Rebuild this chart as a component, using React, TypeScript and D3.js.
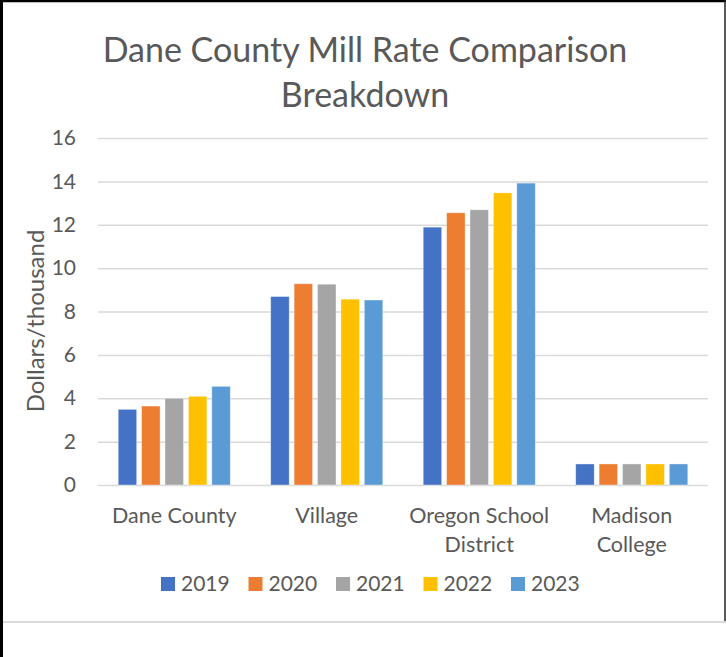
import React, { useEffect, useRef } from "react";
import * as d3 from "d3";

const categories = [
  ["Dane County"],
  ["Village"],
  ["Oregon School", "District"],
  ["Madison", "College"],
];
const years = ["2019", "2020", "2021", "2022", "2023"];
const colors = ["#4472C4", "#ED7D31", "#A5A5A5", "#FFC000", "#5B9BD5"];

// mill rate per category, one array per year
const values2019 = [3.49, 8.69, 11.89, 0.97];
const values2020 = [3.64, 9.28, 12.55, 0.97];
const values2021 = [4.0, 9.26, 12.69, 0.97];
const values2022 = [4.09, 8.57, 13.47, 0.97];
const values2023 = [4.55, 8.53, 13.92, 0.97];
const yTicks = [0, 2, 4, 6, 8, 10, 12, 14, 16];

const series = [values2019, values2020, values2021, values2022, values2023];

function App() {
  const svgRef = useRef(null);

  const width = 726;
  const height = 657;
  const font = "Lato, 'Open Sans', sans-serif";
  const textColor = "#595959";

  useEffect(() => {
    const svg = d3.select(svgRef.current);
    svg.selectAll("*").remove();

    const left = 98;
    const right = 708;
    const top = 138;
    const bottom = 485;

    const catNames = categories.map((c) => c.join(" "));
    const x0 = d3
      .scaleBand()
      .domain(catNames)
      .range([left, right])
      .paddingInner(0.265)
      .paddingOuter(0.1325);
    const x1 = d3
      .scaleBand()
      .domain(years)
      .range([0, x0.bandwidth()])
      .paddingInner(0.21);
    const y = d3.scaleLinear().domain([0, 16]).range([bottom, top]);

    // outer frame
    svg.append("rect").attr("x", 0).attr("y", 0).attr("width", width).attr("height", height).attr("fill", "#fff");
    svg
      .append("line")
      .attr("x1", 3).attr("x2", width)
      .attr("y1", 622).attr("y2", 622)
      .attr("stroke", "#d9d9d9").attr("stroke-width", 2);
    svg
      .append("line")
      .attr("x1", 0).attr("x2", width)
      .attr("y1", 1).attr("y2", 1)
      .attr("stroke", "#000").attr("stroke-width", 2.5);
    svg
      .append("line")
      .attr("x1", 1.5).attr("x2", 1.5)
      .attr("y1", 0).attr("y2", height)
      .attr("stroke", "#000").attr("stroke-width", 3);
    svg
      .append("line")
      .attr("x1", 725).attr("x2", 725)
      .attr("y1", 0).attr("y2", 621)
      .attr("stroke", "#222").attr("stroke-width", 1.5);

    // title
    const title = svg
      .append("text")
      .attr("text-anchor", "middle")
      .attr("font-family", font)
      .attr("font-size", 34)
      .attr("fill", textColor);
    title.append("tspan").attr("x", 365).attr("y", 62).text("Dane County Mill Rate Comparison");
    title.append("tspan").attr("x", 365).attr("y", 107).text("Breakdown");

    // gridlines + y ticks
    const yAxis = d3.axisLeft(y).tickValues(yTicks).tickSize(-(right - left)).tickPadding(22);
    const yg = svg.append("g").attr("transform", `translate(${left},0)`).call(yAxis);
    yg.select(".domain").remove();
    yg.selectAll("line").attr("stroke", "#d9d9d9").attr("stroke-width", 1.5);
    yg.selectAll("text")
      .attr("font-family", font)
      .attr("font-size", 21)
      .attr("fill", textColor);

    svg
      .append("text")
      .attr("transform", `translate(44,321) rotate(-90)`)
      .attr("text-anchor", "middle")
      .attr("font-family", font)
      .attr("font-size", 24)
      .attr("fill", textColor)
      .text("Dollars/thousand");

    // bars
    const groups = svg
      .selectAll(".cat")
      .data(catNames)
      .join("g")
      .attr("transform", (d) => `translate(${x0(d)},0)`);
    groups
      .selectAll("rect")
      .data((d, i) => years.map((yr, k) => ({ yr, k, v: series[k][i] })))
      .join("rect")
      .attr("x", (d) => x1(d.yr))
      .attr("width", x1.bandwidth())
      .attr("y", (d) => y(d.v))
      .attr("height", (d) => y(0) - y(d.v))
      .attr("fill", (d) => colors[d.k])
      .attr("stroke", "#fff")
      .attr("stroke-opacity", 0.5)
      .attr("stroke-width", 0.75);

    // category labels
    const catLabels = svg
      .selectAll(".catlabel")
      .data(categories)
      .join("text")
      .attr("text-anchor", "middle")
      .attr("font-family", font)
      .attr("font-size", 21.5)
      .attr("fill", textColor);
    catLabels
      .selectAll("tspan")
      .data((d) => d.map((line, j) => ({ line, j, cat: d.join(" ") })))
      .join("tspan")
      .attr("x", (d) => x0(d.cat) + x0.bandwidth() / 2)
      .attr("y", (d) => 523 + d.j * 29)
      .text((d) => d.line);

    // legend
    const legendStep = 87.5;
    const legend = svg
      .selectAll(".legend")
      .data(years)
      .join("g")
      .attr("transform", (d, i) => `translate(${161 + i * legendStep},577)`);
    legend
      .append("rect")
      .attr("width", 14)
      .attr("height", 14)
      .attr("fill", (d, i) => colors[i]);
    legend
      .append("text")
      .attr("x", 20)
      .attr("y", 14)
      .attr("font-family", font)
      .attr("font-size", 21)
      .attr("fill", textColor)
      .text((d) => d);
  }, []);

  return (
    <svg
      ref={svgRef}
      width={width}
      height={height}
      style={{ position: "absolute", left: 0, top: 0 }}
    />
  );
}

export default App;
